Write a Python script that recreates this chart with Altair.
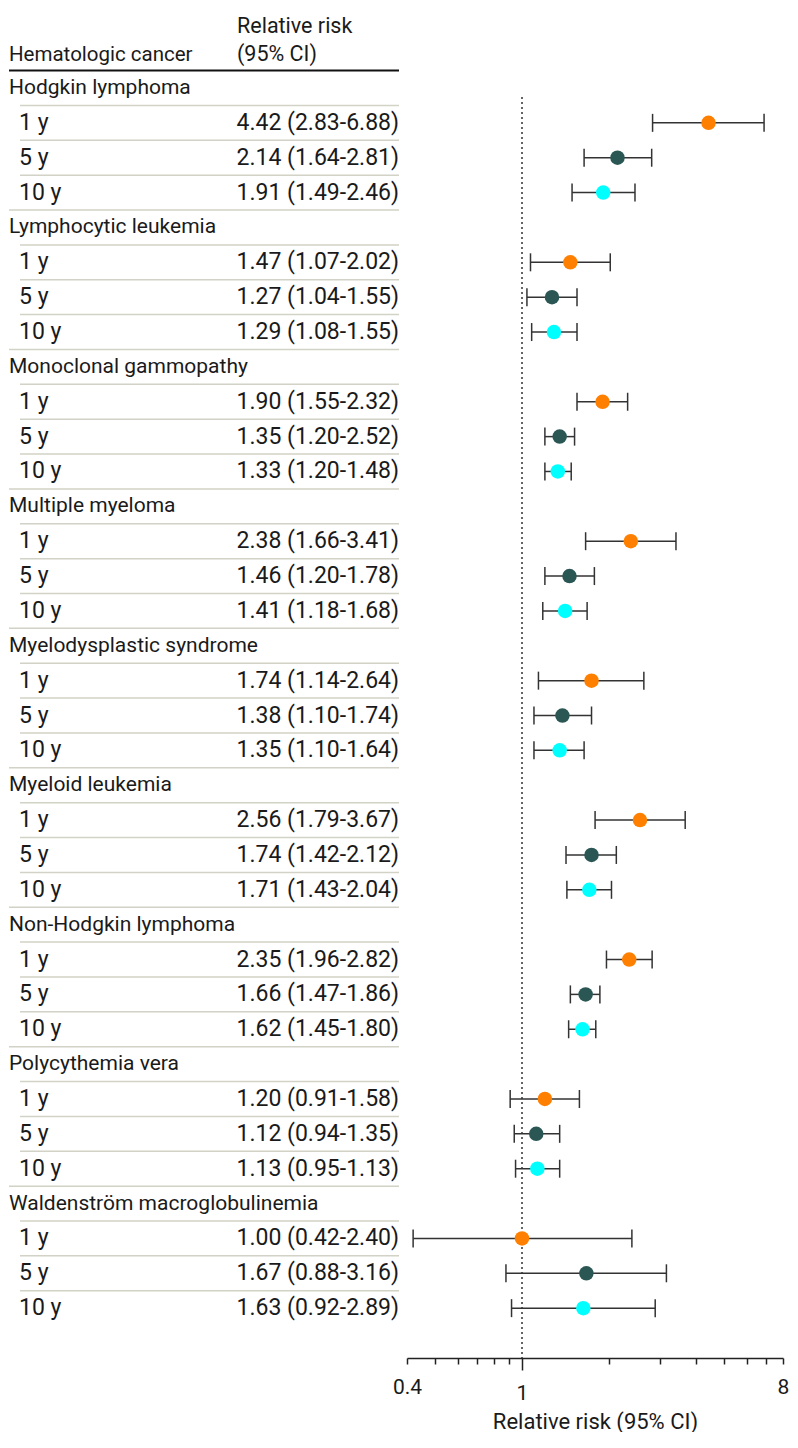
import altair as alt
import pandas as pd

groups = [
    "Hodgkin lymphoma",
    "Lymphocytic leukemia",
    "Monoclonal gammopathy",
    "Multiple myeloma",
    "Myelodysplastic syndrome",
    "Myeloid leukemia",
    "Non-Hodgkin lymphoma",
    "Polycythemia vera",
    "Waldenström macroglobulinemia",
]
periods = ["1 y", "5 y", "10 y"]

rr = [
    [4.42, 2.14, 1.91],
    [1.47, 1.27, 1.29],
    [1.90, 1.35, 1.33],
    [2.38, 1.46, 1.41],
    [1.74, 1.38, 1.35],
    [2.56, 1.74, 1.71],
    [2.35, 1.66, 1.62],
    [1.20, 1.12, 1.13],
    [1.00, 1.67, 1.63],
]
lo = [
    [2.83, 1.64, 1.49],
    [1.07, 1.04, 1.08],
    [1.55, 1.20, 1.20],
    [1.66, 1.20, 1.18],
    [1.14, 1.10, 1.10],
    [1.79, 1.42, 1.43],
    [1.96, 1.47, 1.45],
    [0.91, 0.94, 0.95],
    [0.42, 0.88, 0.92],
]
hi = [
    [6.88, 2.81, 2.46],
    [2.02, 1.55, 1.55],
    [2.32, 1.52, 1.48],
    [3.41, 1.78, 1.68],
    [2.64, 1.74, 1.64],
    [3.67, 2.12, 2.04],
    [2.82, 1.86, 1.80],
    [1.58, 1.35, 1.35],
    [2.40, 3.16, 2.89],
]
rr_text = [
    ["4.42 (2.83-6.88)", "2.14 (1.64-2.81)", "1.91 (1.49-2.46)"],
    ["1.47 (1.07-2.02)", "1.27 (1.04-1.55)", "1.29 (1.08-1.55)"],
    ["1.90 (1.55-2.32)", "1.35 (1.20-2.52)", "1.33 (1.20-1.48)"],
    ["2.38 (1.66-3.41)", "1.46 (1.20-1.78)", "1.41 (1.18-1.68)"],
    ["1.74 (1.14-2.64)", "1.38 (1.10-1.74)", "1.35 (1.10-1.64)"],
    ["2.56 (1.79-3.67)", "1.74 (1.42-2.12)", "1.71 (1.43-2.04)"],
    ["2.35 (1.96-2.82)", "1.66 (1.47-1.86)", "1.62 (1.45-1.80)"],
    ["1.20 (0.91-1.58)", "1.12 (0.94-1.35)", "1.13 (0.95-1.13)"],
    ["1.00 (0.42-2.40)", "1.67 (0.88-3.16)", "1.63 (0.92-2.89)"],
]
x_ticks = [0.4, 0.5, 0.6, 0.7, 0.8, 0.9, 1, 2, 3, 4, 5, 6, 7, 8]
x_labels = [0.4, 1, 8]
colors = ["#FF7F00", "#2A5654", "#00FFFF"]

# ---- build tables ----
grp_rows = []
sub_rows = []
for g, name in enumerate(groups):
    grp_rows.append({"row": 4 * g, "name": name})
    for k, p in enumerate(periods):
        sub_rows.append({
            "row": 4 * g + 1 + k, "period": p, "rr": rr[g][k],
            "lo": lo[g][k], "hi": hi[g][k], "label": rr_text[g][k],
        })
grp_df = pd.DataFrame(grp_rows)
sub_df = pd.DataFrame(sub_rows)
n_rows = 4 * len(groups)
sep_rows = []
for r in range(n_rows - 1):
    sep_rows.append({"y": r + 0.5, "kind": "full" if (r + 1) % 4 == 0 else "indent"})
sep_df = pd.DataFrame(sep_rows)
head_df = pd.DataFrame({"y": [-1.75, -0.947], "t": ["Relative risk", "(95% CI)"]})

FONT = "Roboto"
TXT = "#1a1a1a"
FS_NAME = 21
FS_NUM = 23
H = 1350
LW = 390
RW = 376
ydom = [-2.295, 36.43]
yscale = alt.Scale(domain=ydom, reverse=True, nice=False, zero=False)

def Y(field):
    return alt.Y(field, type="quantitative", scale=yscale, axis=None)

# ---- left table panel ----
base_l = alt.Chart(sub_df)
t_names = alt.Chart(grp_df).mark_text(align="left", baseline="middle", font=FONT, fontSize=FS_NAME, color=TXT).encode(
    x=alt.value(0), y=Y("row"), text="name:N")
t_period = base_l.mark_text(align="left", baseline="middle", font=FONT, fontSize=FS_NUM, color=TXT).encode(
    x=alt.value(10), y=Y("row"), text="period:N")
t_rr = base_l.mark_text(align="right", baseline="middle", font=FONT, fontSize=FS_NUM, color=TXT).encode(
    x=alt.value(LW), y=Y("row"), text="label:N")
t_head1 = alt.Chart(head_df).mark_text(align="left", baseline="middle", font=FONT, fontSize=21.5, color=TXT).encode(
    x=alt.value(228), y=Y("y"), text="t:N")
t_head2 = alt.Chart(pd.DataFrame({"y": [-0.947], "t": ["Hematologic cancer"]})).mark_text(
    align="left", baseline="middle", font=FONT, fontSize=20.5, color=TXT).encode(
    x=alt.value(0), y=Y("y"), text="t:N")
head_line = alt.Chart(pd.DataFrame({"y": [-0.5]})).mark_rule(color="#111111", strokeWidth=2).encode(
    x=alt.value(0), x2=alt.value(LW), y=Y("y"))
sep_full = alt.Chart(sep_df).transform_filter(alt.datum.kind == "full").mark_rule(
    color="#d2d2c6", strokeWidth=1.5).encode(x=alt.value(0), x2=alt.value(LW), y=Y("y"))
sep_ind = alt.Chart(sep_df).transform_filter(alt.datum.kind == "indent").mark_rule(
    color="#d2d2c6", strokeWidth=1.5).encode(x=alt.value(11), x2=alt.value(LW), y=Y("y"))

left = alt.layer(sep_full, sep_ind, head_line, t_head1, t_head2, t_names, t_period, t_rr).properties(
    width=LW, height=H)

# ---- right forest panel ----
xscale = alt.Scale(type="log", domain=[0.4, 8], nice=False)
label_test = " || ".join(f"datum.value == {v}" for v in x_labels)
xaxis = alt.Axis(
    values=x_ticks, format="~g",
    labelExpr=f"({label_test}) ? datum.label : ''",
    labelFlush=False, labelOverlap=False,
    tickSize={"condition": {"test": "datum.value == 1", "value": 12}, "value": 6},
    tickColor="#222222", tickWidth=1.5, domainColor="#222222", domainWidth=1.5,
    labelFont=FONT, labelFontSize=21, labelColor=TXT, labelPadding=12,
    title="Relative risk (95% CI)", titleFont=FONT, titleFontSize=22,
    titleFontWeight="normal", titleColor=TXT, titlePadding=8, grid=False,
)
base_r = alt.Chart(sub_df)
ref = alt.Chart(pd.DataFrame({"v": [1]})).mark_rule(
    color="#333333", strokeWidth=1.5, strokeDash=[2, 3]).encode(
    x=alt.X("v:Q", scale=xscale, axis=xaxis), y=alt.value(89), y2=alt.value(H))
ci = base_r.mark_rule(color="#333333", strokeWidth=1.5).encode(
    x=alt.X("lo:Q", scale=xscale), x2="hi:Q", y=Y("row"))
cap_lo = base_r.mark_tick(orient="vertical", size=18, thickness=1.5, color="#333333", opacity=1).encode(
    x=alt.X("lo:Q", scale=xscale), y=Y("row"))
cap_hi = base_r.mark_tick(orient="vertical", size=18, thickness=1.5, color="#333333", opacity=1).encode(
    x=alt.X("hi:Q", scale=xscale), y=Y("row"))
pts = base_r.mark_circle(size=210, opacity=1).encode(
    x=alt.X("rr:Q", scale=xscale), y=Y("row"),
    color=alt.Color("period:N", scale=alt.Scale(domain=periods, range=colors), legend=None))

right = alt.layer(ref, ci, cap_lo, cap_hi, pts).properties(width=RW, height=H)

chart = (
    alt.hconcat(left, right, spacing=8, bounds="flush")
    .properties(padding=0)
    .configure(font=FONT)
    .configure_view(strokeWidth=0, stroke="transparent")
)

chart.save("out.html", embed_options={"renderer": "svg", "actions": False})
